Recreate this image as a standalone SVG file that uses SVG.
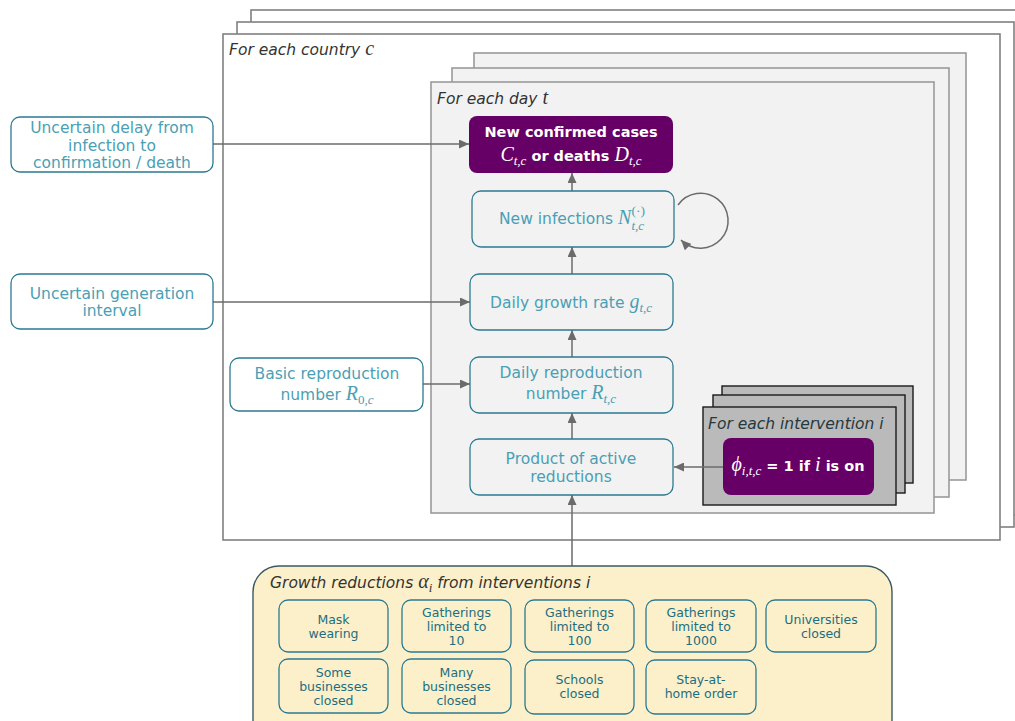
<svg xmlns="http://www.w3.org/2000/svg" width="1015" height="721" viewBox="0 0 1015 721">
  <style>
    .country { fill: #ffffff; stroke: #808080; stroke-width: 1.6; }
    .day { fill: #f2f2f2; stroke: #9a9a9a; stroke-width: 1.6; }
    .interv { fill: #bababa; stroke: #1a1a1a; stroke-width: 1.4; }
    .node { fill: #f2f2f2; stroke: #2b7a91; stroke-width: 1.3; }
    .ext { fill: #ffffff; stroke: #2b7a91; stroke-width: 1.3; }
    .obs { fill: #660066; stroke: none; }
    .alpha { fill: #fbf0ca; stroke: #3b5a62; stroke-width: 1.4; }
    .small { fill: #fbf0ca; stroke: #2b7a91; stroke-width: 1.3; }
    .lbl { font-family: "DejaVu Sans", "Liberation Sans", sans-serif; font-style: oblique; font-size: 15.5px; fill: #333333; }
    .t { font-family: "DejaVu Sans", "Liberation Sans", sans-serif; font-size: 15.5px; fill: #4a9fb5; text-anchor: middle; }
    .w { font-family: "DejaVu Sans", "Liberation Sans", sans-serif; font-size: 14.5px; font-weight: bold; fill: #ffffff; text-anchor: middle; }
    .s { font-family: "DejaVu Sans", "Liberation Sans", sans-serif; font-size: 12.5px; fill: #1d6e80; text-anchor: middle; }
    .m { font-family: "Liberation Serif", "DejaVu Serif", serif; font-style: italic; font-weight: normal; font-size: 20px; }
    .ms { font-family: "Liberation Serif", "DejaVu Serif", serif; font-style: italic; font-weight: normal; font-size: 13px; }
    .mu { font-family: "Liberation Serif", "DejaVu Serif", serif; font-style: normal; font-weight: normal; font-size: 13px; }
    .mss { font-family: "Liberation Serif", "DejaVu Serif", serif; font-style: normal; font-weight: normal; font-size: 13.5px; }
    .edge { fill: none; stroke: #6b6b6b; stroke-width: 1.5; }
  </style>
  <defs>
    <marker id="arrow" markerUnits="userSpaceOnUse" markerWidth="11" markerHeight="9" refX="10" refY="4.5" orient="auto">
      <path d="M0,0 L10,4.5 L0,9 z" fill="#6b6b6b"/>
    </marker>
  </defs>

  <!-- country plates -->
  <g id="country-plates">
    <rect class="country" x="251" y="10" width="790" height="505"/>
    <rect class="country" x="237" y="22" width="777" height="505"/>
    <rect class="country" x="223" y="34" width="777" height="506"/>
    <text class="lbl" x="229" y="55">For each country <tspan class="m" font-size="18px">c</tspan></text>
  </g>

  <!-- day plates -->
  <g id="day-plates">
    <rect class="day" x="474" y="53" width="492" height="427"/>
    <rect class="day" x="452" y="68" width="497" height="429"/>
    <rect class="day" x="431" y="82" width="503" height="431"/>
    <text class="lbl" x="437" y="104">For each day <tspan class="m" font-size="18px">t</tspan></text>
  </g>

  <!-- intervention plates -->
  <g id="intervention-plates">
    <rect class="interv" x="722" y="386" width="191" height="97"/>
    <rect class="interv" x="713" y="395" width="192" height="98"/>
    <rect class="interv" x="703" y="407" width="193" height="98"/>
    <text class="lbl" x="708" y="429" style="fill:#24393e">For each intervention <tspan>i</tspan></text>
  </g>

  <!-- connectors -->
  <g id="connectors">
    <line class="edge" x1="213" y1="144" x2="469" y2="144" marker-end="url(#arrow)"/>
    <line class="edge" x1="213" y1="302" x2="470" y2="302" marker-end="url(#arrow)"/>
    <line class="edge" x1="423" y1="384" x2="470" y2="384" marker-end="url(#arrow)"/>
    <line class="edge" x1="723" y1="467" x2="674" y2="467" marker-end="url(#arrow)"/>
    <line class="edge" x1="572" y1="566" x2="572" y2="495" marker-end="url(#arrow)"/>
    <line class="edge" x1="572" y1="439" x2="572" y2="413" marker-end="url(#arrow)"/>
    <line class="edge" x1="572" y1="357" x2="572" y2="330" marker-end="url(#arrow)"/>
    <line class="edge" x1="572" y1="274" x2="572" y2="247" marker-end="url(#arrow)"/>
    <line class="edge" x1="572" y1="191" x2="572" y2="173" marker-end="url(#arrow)"/>
    <path class="edge" d="M 678 205 A 27.5 27.5 0 1 1 681 240" marker-end="url(#arrow)"/>
  </g>

  <!-- observed cases / deaths -->
  <g id="node-observed">
    <rect class="obs" x="469" y="116" width="204" height="57" rx="8"/>
    <text class="w" x="571" y="137">New confirmed cases</text>
    <text class="w" x="571" y="161"><tspan class="m">C</tspan><tspan class="ms" dy="4">t,c</tspan><tspan dy="-4"> or deaths </tspan><tspan class="m">D</tspan><tspan class="ms" dy="4">t,c</tspan></text>
  </g>

  <!-- new infections -->
  <g id="node-infections">
    <rect class="node" x="472" y="191" width="202" height="56" rx="9"/>
    <text class="t" x="572" y="224">New infections <tspan class="m">N</tspan><tspan class="ms" dy="6">t,c</tspan><tspan class="mss" dx="-12.6" dy="-15">(·)</tspan></text>
  </g>

  <!-- growth rate -->
  <g id="node-growth">
    <rect class="node" x="470" y="274" width="203" height="56" rx="9"/>
    <text class="t" x="571" y="308">Daily growth rate <tspan class="m">g</tspan><tspan class="ms" dy="4">t,c</tspan></text>
  </g>

  <!-- daily reproduction number -->
  <g id="node-rt">
    <rect class="node" x="470" y="357" width="203" height="56" rx="9"/>
    <text class="t" x="571" y="378">Daily reproduction</text>
    <text class="t" x="571" y="399">number <tspan class="m">R</tspan><tspan class="ms" dy="4">t,c</tspan></text>
  </g>

  <!-- product of active reductions -->
  <g id="node-product">
    <rect class="node" x="470" y="439" width="203" height="56" rx="9"/>
    <text class="t" x="571" y="464">Product of active</text>
    <text class="t" x="571" y="482">reductions</text>
  </g>

  <!-- intervention indicator -->
  <g id="node-phi">
    <rect class="obs" x="723" y="438" width="151" height="57" rx="8"/>
    <text class="w" x="798" y="471"><tspan class="m" font-size="21px">ϕ</tspan><tspan class="ms" dy="4">i,t,c</tspan><tspan dy="-4"> = 1 if </tspan><tspan class="m">i</tspan><tspan> is on</tspan></text>
  </g>

  <!-- delay distribution -->
  <g id="node-delay">
    <rect class="ext" x="11" y="117" width="202" height="55" rx="9"/>
    <text class="t" x="112" y="133">Uncertain delay from</text>
    <text class="t" x="112" y="150.5">infection to</text>
    <text class="t" x="112" y="168">confirmation / death</text>
  </g>

  <!-- generation interval -->
  <g id="node-generation">
    <rect class="ext" x="11" y="274" width="202" height="55" rx="9"/>
    <text class="t" x="112" y="298.5">Uncertain generation</text>
    <text class="t" x="112" y="316">interval</text>
  </g>

  <!-- basic reproduction number -->
  <g id="node-r0">
    <rect class="ext" x="230" y="358" width="193" height="53" rx="9"/>
    <text class="t" x="327" y="379">Basic reproduction</text>
    <text class="t" x="327" y="400">number <tspan class="m">R</tspan><tspan class="mu" dy="4">0</tspan><tspan class="ms">,c</tspan></text>
  </g>

  <!-- growth reductions from interventions -->
  <g id="node-alpha">
    <rect class="alpha" x="253" y="566" width="639" height="180" rx="26"/>
    <text class="lbl" x="270" y="588">Growth reductions <tspan class="m" font-size="19px">α</tspan><tspan class="ms" dy="4">i</tspan><tspan dy="-4"> from interventions </tspan><tspan>i</tspan></text>

    <rect class="small" x="279" y="600" width="109" height="52" rx="9"/>
    <text class="s" x="333.5" y="623.5">Mask</text>
    <text class="s" x="333.5" y="637.5">wearing</text>

    <rect class="small" x="402" y="600" width="109" height="52" rx="9"/>
    <text class="s" x="456.5" y="616.5">Gatherings</text>
    <text class="s" x="456.5" y="630.5">limited to</text>
    <text class="s" x="456.5" y="644.5">10</text>

    <rect class="small" x="525" y="600" width="109" height="52" rx="9"/>
    <text class="s" x="579.5" y="616.5">Gatherings</text>
    <text class="s" x="579.5" y="630.5">limited to</text>
    <text class="s" x="579.5" y="644.5">100</text>

    <rect class="small" x="646" y="600" width="110" height="52" rx="9"/>
    <text class="s" x="701" y="616.5">Gatherings</text>
    <text class="s" x="701" y="630.5">limited to</text>
    <text class="s" x="701" y="644.5">1000</text>

    <rect class="small" x="766" y="600" width="110" height="52" rx="9"/>
    <text class="s" x="821" y="623.5">Universities</text>
    <text class="s" x="821" y="637.5">closed</text>

    <rect class="small" x="279" y="659" width="109" height="54" rx="9"/>
    <text class="s" x="333.5" y="676.5">Some</text>
    <text class="s" x="333.5" y="690.5">businesses</text>
    <text class="s" x="333.5" y="704.5">closed</text>

    <rect class="small" x="402" y="659" width="109" height="54" rx="9"/>
    <text class="s" x="456.5" y="676.5">Many</text>
    <text class="s" x="456.5" y="690.5">businesses</text>
    <text class="s" x="456.5" y="704.5">closed</text>

    <rect class="small" x="525" y="660" width="109" height="54" rx="9"/>
    <text class="s" x="579.5" y="684">Schools</text>
    <text class="s" x="579.5" y="698">closed</text>

    <rect class="small" x="646" y="660" width="110" height="54" rx="9"/>
    <text class="s" x="701" y="684">Stay-at-</text>
    <text class="s" x="701" y="698">home order</text>
  </g>
</svg>
